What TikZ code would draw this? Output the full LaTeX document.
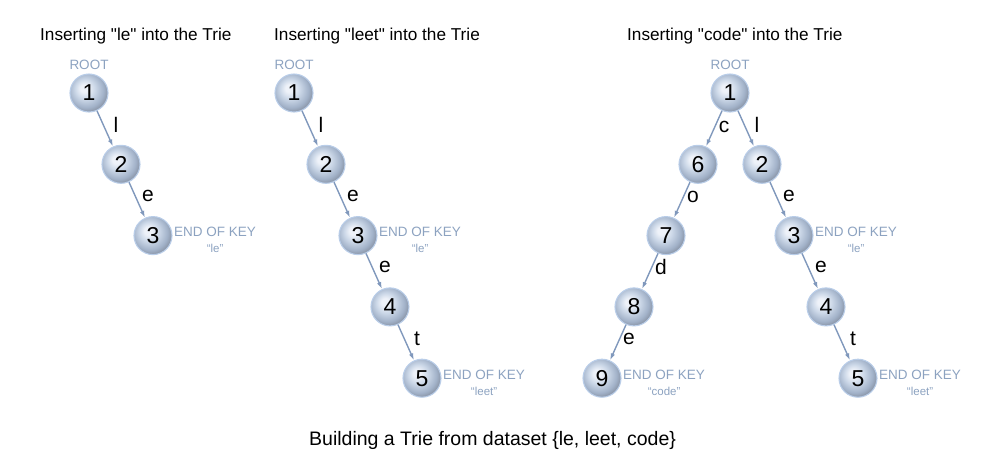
\documentclass[tikz,border=0pt]{standalone}
\usepackage{fontspec}
\setmainfont{Liberation Sans}
\usetikzlibrary{arrows.meta}
\definecolor{bc0}{RGB}{238,242,249}
\definecolor{bc1}{RGB}{204,216,232}
\definecolor{bc2}{RGB}{162,178,201}
\definecolor{bc3}{RGB}{116,123,136}
\definecolor{rimc}{RGB}{185,205,232}
\definecolor{edgec}{RGB}{128,152,188}
\definecolor{keyc}{RGB}{140,162,192}
\pgfdeclareradialshading{trieball}{\pgfpoint{-7bp}{7bp}}{color(0bp)=(bc0); color(5bp)=(bc0); color(13bp)=(bc1); color(23bp)=(bc2); color(33bp)=(bc3); color(50bp)=(bc3)}
\tikzset{
  ball/.style={circle, minimum size=38pt, inner sep=0pt, shading=trieball, draw=rimc, line width=1.1pt, font=\fontsize{23}{23}\selectfont, text=black},
  edge/.style={draw=edgec, line width=1.4pt, -{Latex[length=7pt,width=4.5pt]}},
  elabel/.style={midway, xshift=11pt, yshift=4pt, font=\fontsize{21}{21}\selectfont, text=black, inner sep=0pt},
  title/.style={anchor=base west, font=\fontsize{17.2}{17.2}\selectfont, inner sep=0pt},
  keytext/.style={text=keyc, font=\fontsize{13.5}{13.5}\selectfont, inner sep=0pt},
  endkey/.style={keytext, align=center, anchor=west, font=\fontsize{13.5}{16.5}\selectfont},
  rootlbl/.style={keytext},
}
\begin{document}
\begin{tikzpicture}[x=1pt,y=-1pt]
\useasboundingbox (0,0) rectangle (991,467);
% titles
\node[title] (t1) at (40,40) {Inserting \textquotedbl le\textquotedbl{} into the Trie};
\node[title] (t2) at (274,40) {Inserting \textquotedbl leet\textquotedbl{} into the Trie};
\node[title] (t3) at (627,40) {Inserting \textquotedbl code\textquotedbl{} into the Trie};
% panel 1
\node[ball] (a1) at (89,93) {1};
\node[ball] (a2) at (121,164.3) {2};
\node[ball] (a3) at (153,235.6) {3};
\node[rootlbl] (ar) at (89,65) {ROOT};
\draw[edge] (a1) -- (a2) node[elabel] (la1) {l};
\draw[edge] (a2) -- (a3) node[elabel] (la2) {e};
\node[endkey] (a3k) at (174,240) {END OF KEY\\{\fontsize{11.5}{11.5}\selectfont “le”}};
% panel 2
\node[ball] (b1) at (294,93) {1};
\node[ball] (b2) at (326,164.3) {2};
\node[ball] (b3) at (358,235.6) {3};
\node[ball] (b4) at (390,306.9) {4};
\node[ball] (b5) at (422,378.2) {5};
\node[rootlbl] (br) at (294,65) {ROOT};
\draw[edge] (b1) -- (b2) node[elabel] (lb1) {l};
\draw[edge] (b2) -- (b3) node[elabel] (lb2) {e};
\draw[edge] (b3) -- (b4) node[elabel] (lb3) {e};
\draw[edge] (b4) -- (b5) node[elabel] (lb4) {t};
\node[endkey] (b3k) at (379,240) {END OF KEY\\{\fontsize{11.5}{11.5}\selectfont “le”}};
\node[endkey] (b5k) at (443,382.6) {END OF KEY\\{\fontsize{11.5}{11.5}\selectfont “leet”}};
% panel 3
\node[ball] (c1) at (730,93) {1};
\node[ball] (c6) at (698,164.3) {6};
\node[ball] (c7) at (666,235.6) {7};
\node[ball] (c8) at (634,306.9) {8};
\node[ball] (c9) at (602,378.2) {9};
\node[ball] (c2) at (762,164.3) {2};
\node[ball] (c3) at (794,235.6) {3};
\node[ball] (c4) at (826,306.9) {4};
\node[ball] (c5) at (858,378.2) {5};
\node[rootlbl] (cr) at (730,65) {ROOT};
\draw[edge] (c1) -- (c6) node[elabel, xshift=-1pt, yshift=-2pt] (lc1) {c};
\draw[edge] (c6) -- (c7) node[elabel, yshift=-1pt] (lc2) {o};
\draw[edge] (c7) -- (c8) node[elabel] (lc3) {d};
\draw[edge] (c8) -- (c9) node[elabel] (lc4) {e};
\draw[edge] (c1) -- (c2) node[elabel] (lc5) {l};
\draw[edge] (c2) -- (c3) node[elabel] (lc6) {e};
\draw[edge] (c3) -- (c4) node[elabel] (lc7) {e};
\draw[edge] (c4) -- (c5) node[elabel] (lc8) {t};
\node[endkey] (c9k) at (623,382.6) {END OF KEY\\{\fontsize{11.5}{11.5}\selectfont “code”}};
\node[endkey] (c3k) at (815,240) {END OF KEY\\{\fontsize{11.5}{11.5}\selectfont “le”}};
\node[endkey] (c5k) at (879,382.6) {END OF KEY\\{\fontsize{11.5}{11.5}\selectfont “leet”}};
% caption
\node[anchor=base west, inner sep=0pt, font=\fontsize{19.5}{19.5}\selectfont] (cap) at (309,445) {Building a Trie from dataset \{le, leet, code\}};
\end{tikzpicture}
\end{document}
